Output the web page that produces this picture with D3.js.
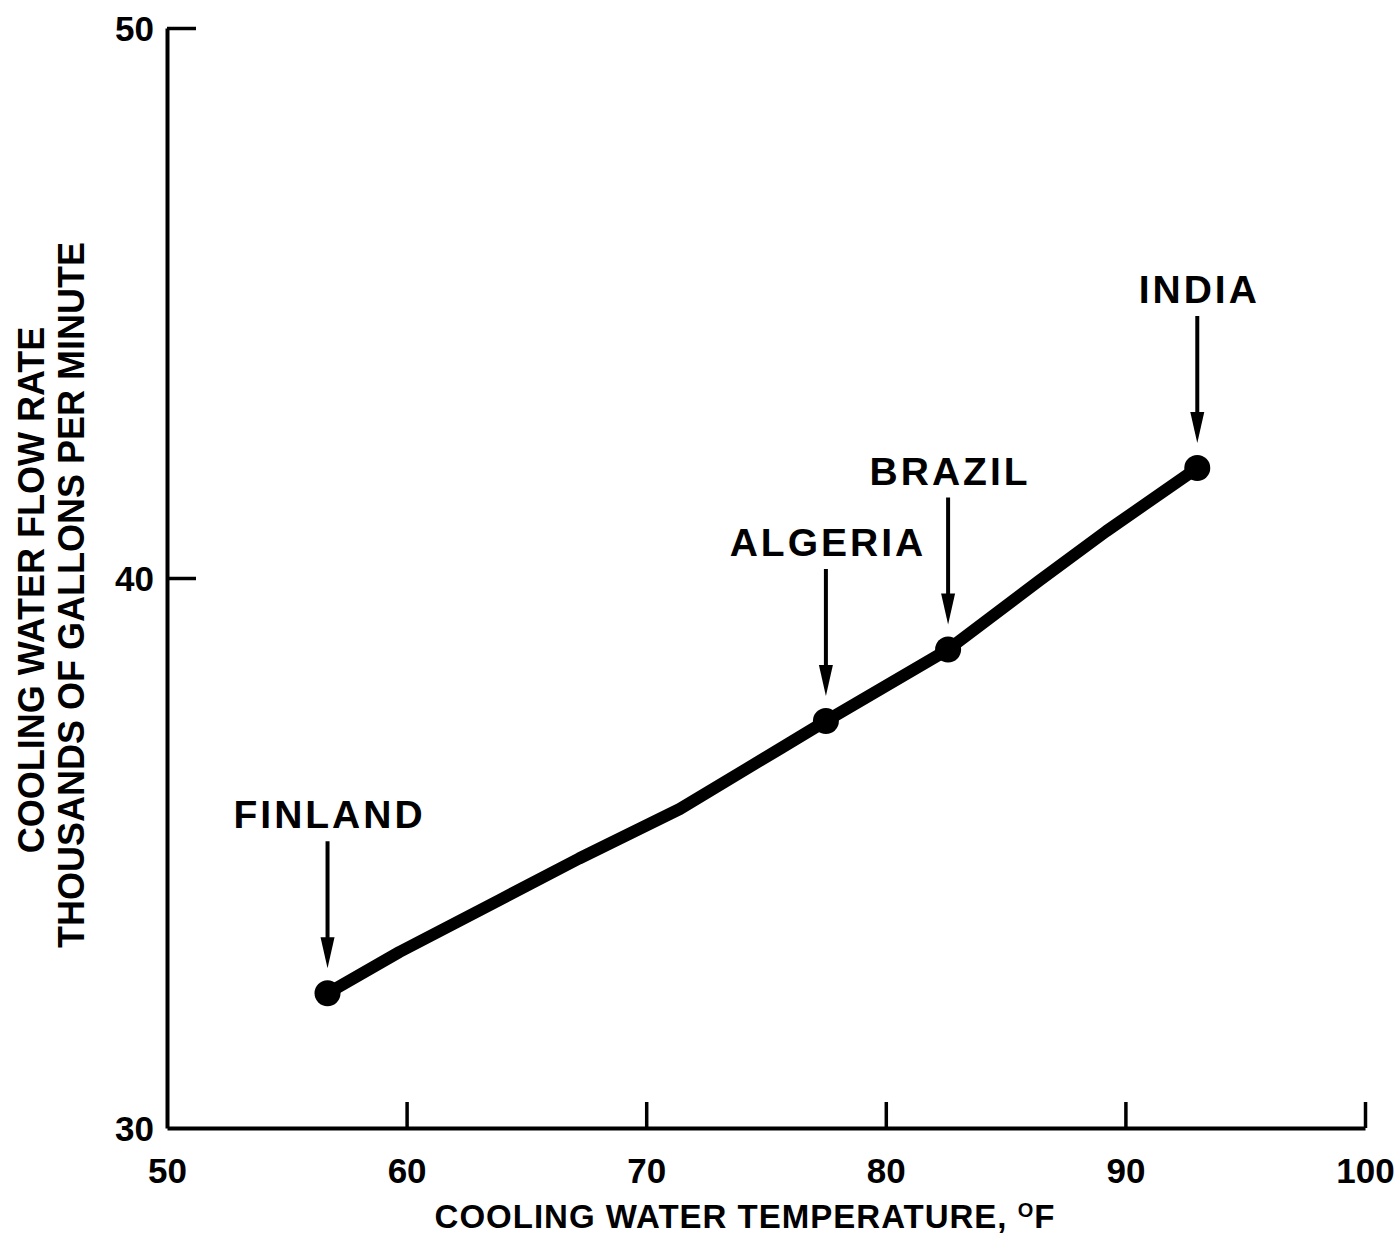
<!DOCTYPE html>
<html>
  <head>
    <meta charset="utf-8">
    <script src="https://d3js.org/d3.v7.min.js"></script>
    <title>Cooling Water Flow Rate vs Temperature</title>
    <style>
      body {
        margin: 0px;
        background: #fff;
      }
      text {
        font-family: 'Liberation Sans', Arial, sans-serif;
        font-weight: bold;
        fill: #000;
      }
      .domain {
        stroke: #000;
        stroke-width: 4;
      }
      .tick line {
        stroke: #000;
        stroke-width: 3.5;
      }
      .tick text {
        font-size: 35px;
      }
      .axis-label {
        font-size: 36px;
      }
      .x-label {
        font-size: 33px;
        letter-spacing: 1px;
      }
      .site-label {
        font-size: 39px;
        letter-spacing: 3px;
      }
    </style>
  </head>
  <body>
    <svg width="1397" height="1246"></svg>
    <script>
      // curve: temperature (F) and flow (thousand gpm)
      const tempF = [56.7, 59.7, 63.9, 67.2, 71.4, 75.6, 77.5, 82.6, 86.4, 89.2, 93.0];
      const flowK = [32.45, 33.2, 34.15, 34.9, 35.8, 36.9, 37.4, 38.7, 39.95, 40.85, 42.0];

      // labelled sites on the curve
      const siteNames = ['FINLAND', 'ALGERIA', 'BRAZIL', 'INDIA'];
      const siteTemp = [56.7, 77.5, 82.6, 93.0];
      const siteFlow = [32.45, 37.4, 38.7, 42.0];

      const xTicks = [50, 60, 70, 80, 90, 100];
      const yTicks = [30, 40, 50];

      const xLabel = 'COOLING WATER TEMPERATURE, ';
      const yLabel1 = 'COOLING WATER FLOW RATE';
      const yLabel2 = 'THOUSANDS OF GALLONS PER MINUTE';

      const margin = { left: 167, right: 32, top: 28, bottom: 118 };

      const svg = d3.select('svg');
      const width = +svg.attr('width');
      const height = +svg.attr('height');
      const innerWidth = width - margin.left - margin.right;
      const innerHeight = height - margin.top - margin.bottom;

      const g = svg.append('g')
          .attr('transform', `translate(${margin.left},${margin.top})`);

      const xScale = d3.scaleLinear()
          .domain([50, 100])
          .range([0, innerWidth]);

      const yScale = d3.scaleLinear()
          .domain([30, 50])
          .range([innerHeight, 0]);

      const xAxis = d3.axisBottom(xScale)
          .tickValues(xTicks)
          .tickFormat(d3.format('d'))
          .tickSize(-26)
          .tickSizeOuter(0)
          .tickPadding(30);

      const yAxis = d3.axisLeft(yScale)
          .tickValues(yTicks)
          .tickFormat(d3.format('d'))
          .tickSize(-29)
          .tickSizeOuter(0)
          .tickPadding(13);

      const xAxisG = g.append('g')
          .attr('transform', `translate(0,${innerHeight})`)
          .call(xAxis);
      xAxisG.selectAll('.tick').filter(d => d === 50).select('line').remove();

      const yAxisG = g.append('g').call(yAxis);
      yAxisG.selectAll('.tick').filter(d => d === 30).select('line').remove();
      yAxisG.selectAll('.tick text').attr('dy', '0.36em');

      // axis titles
      const xTitle = svg.append('text')
          .attr('class', 'x-label')
          .attr('x', 745)
          .attr('y', 1228)
          .attr('text-anchor', 'middle');
      xTitle.append('tspan').text(xLabel);
      xTitle.append('tspan').attr('font-size', 20).attr('dy', -11).text('O');
      xTitle.append('tspan').attr('dy', 11).text('F');

      svg.append('text')
          .attr('class', 'axis-label')
          .attr('transform', 'translate(31,590) rotate(-90)')
          .attr('text-anchor', 'middle')
          .attr('dy', '0.36em')
          .text(yLabel1);

      svg.append('text')
          .attr('class', 'axis-label')
          .attr('transform', 'translate(71,595) rotate(-90)')
          .attr('text-anchor', 'middle')
          .attr('dy', '0.36em')
          .text(yLabel2);

      // the curve
      const curve = tempF.map((t, i) => ({ t: t, f: flowK[i] }));
      const line = d3.line()
          .x(d => xScale(d.t))
          .y(d => yScale(d.f));

      g.append('path')
          .datum(curve)
          .attr('fill', 'none')
          .attr('stroke', '#000')
          .attr('stroke-width', 12)
          .attr('stroke-linejoin', 'round')
          .attr('stroke-linecap', 'round')
          .attr('d', line);

      const sites = siteNames.map((n, i) => ({ name: n, t: siteTemp[i], f: siteFlow[i] }));

      g.selectAll('circle').data(sites)
        .enter().append('circle')
          .attr('cx', d => xScale(d.t))
          .attr('cy', d => yScale(d.f))
          .attr('r', 13)
          .attr('fill', '#000');

      // arrows pointing down at each site
      const arrowG = g.selectAll('.arrow').data(sites)
        .enter().append('g')
          .attr('class', 'arrow')
          .attr('transform', d => `translate(${xScale(d.t)},${yScale(d.f)})`);

      arrowG.append('line')
          .attr('x1', 0).attr('x2', 0)
          .attr('y1', -152).attr('y2', -50)
          .attr('stroke', '#000')
          .attr('stroke-width', 4);

      arrowG.append('path')
          .attr('d', 'M-7,-56L7,-56L0,-25Z')
          .attr('fill', '#000');

      arrowG.append('text')
          .attr('class', 'site-label')
          .attr('x', 2)
          .attr('y', -165)
          .attr('text-anchor', 'middle')
          .text(d => d.name);
    </script>
  </body>
</html>
